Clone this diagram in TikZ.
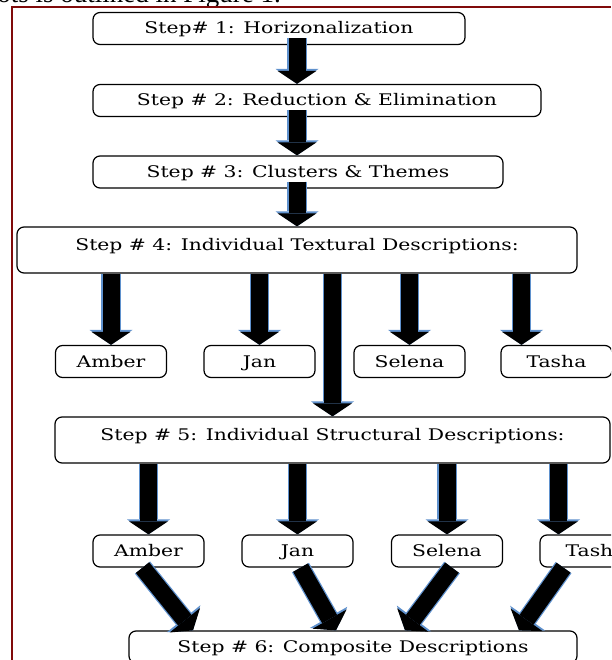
\documentclass[tikz,border=0pt]{standalone}
\usepackage{graphicx}
\usepackage{fontspec}
\setmainfont{DejaVu Serif}
\newfontfamily\capfont{Liberation Serif}
\usetikzlibrary{arrows.meta}
\definecolor{framered}{RGB}{128,10,10}
\definecolor{glow}{RGB}{95,145,205}
\newcommand{\wtext}[1]{\scalebox{1.27}[1]{#1}}
\tikzset{
  stepbox/.style={draw, line width=1.2pt, rounded corners=7pt, inner sep=0pt,
    minimum height=32pt, text height=11pt, text depth=0pt,
    font=\fontsize{16}{19}\selectfont},
  tallbox/.style={stepbox, minimum height=46pt, text height=17pt, text depth=17pt},
  namebox/.style={stepbox, minimum width=111pt},
  blk/.style={line width=17pt, -{Triangle[width=39pt,length=13pt,line width=0pt]},
    preaction={draw=glow, line width=19.5pt, -{Triangle[width=43pt,length=15pt,line width=0pt]}}}
}

\begin{document}
\begin{tikzpicture}[x=1pt,y=-1pt]
\useasboundingbox (0,0) rectangle (611,660);
\clip (0,0) rectangle (611,660);
% page around the figure
\node[anchor=base east, inner sep=0pt, font=\capfont\fontsize{27}{30}\selectfont] (cap) at (281,3) {ots is outlined in Figure 1.};
\draw[framered, line width=2pt] (12,660) -- (12,7.5) -- (611,7.5);
% steps
\node[stepbox, minimum width=372pt] (s1) at (279,28.5) {\wtext{Step\# 1: Horizonalization}};
\node[stepbox, minimum width=448pt] (s2) at (317,100.5) {\wtext{Step \# 2: Reduction \& Elimination}};
\node[stepbox, minimum width=410pt] (s3) at (298,172) {\wtext{Step \# 3: Clusters \& Themes}};
\node[tallbox, minimum width=560pt] (s4) at (297,250) {\wtext{Step \# 4: Individual Textural Descriptions:}};
\node[tallbox, minimum width=555pt] (s5) at (332.5,440) {\wtext{Step \# 5: Individual Structural Descriptions:}};
\node[stepbox, minimum width=448pt] (s6) at (353,647) {\wtext{Step \# 6: Composite Descriptions}};
% participants
\node[namebox] (amberA) at (111,361.5) {\wtext{Amber}};
\node[namebox] (janA) at (259.5,361.5) {\wtext{Jan}};
\node[namebox] (selenaA) at (409.5,361.5) {\wtext{Selena}};
\node[namebox] (tashaA) at (556.5,361.5) {\wtext{Tasha}};
\node[namebox] (amberB) at (148.5,551) {\wtext{Amber}};
\node[namebox] (janB) at (297.5,551) {\wtext{Jan}};
\node[namebox] (selenaB) at (447,551) {\wtext{Selena}};
\node[namebox] (tashaB) at (595.5,551) {\wtext{Tasha}};
% arrows
\draw[blk] ([xshift=18pt,yshift=7pt]s1.south) -- ([xshift=-20pt]s2.north);
\draw[blk] ([xshift=-20pt,yshift=7pt]s2.south) -- ([xshift=-1pt]s3.north);
\draw[blk] ([xshift=-1pt,yshift=7pt]s3.south) -- (s4.north);
\foreach \p in {amberA,janA,selenaA}
  \draw[blk] (s4.south -| \p.north) -- (\p.north);
\draw[blk] ([xshift=-35pt]tashaA.north |- s4.south) -- ([xshift=-35pt]tashaA.north);
\draw[blk] (s4.south -| s5.north) -- (s5.north);
\foreach \p in {amberB,janB,selenaB}
  \draw[blk] (s5.south -| \p.north) -- (\p.north);
\draw[blk] ([xshift=-37pt]tashaB.north |- s5.south) -- ([xshift=-37pt]tashaB.north);
\draw[blk] ([xshift=-6pt]amberB.south) -- ([xshift=-160pt]s6.north);
\draw[blk] ([xshift=3pt]janB.south) -- ([xshift=-17pt]s6.north);
\draw[blk] ([xshift=5pt]selenaB.south) -- ([xshift=52pt]s6.north);
\draw[blk] ([xshift=-32pt]tashaB.south) -- ([xshift=166pt]s6.north);
\end{tikzpicture}
\end{document}
